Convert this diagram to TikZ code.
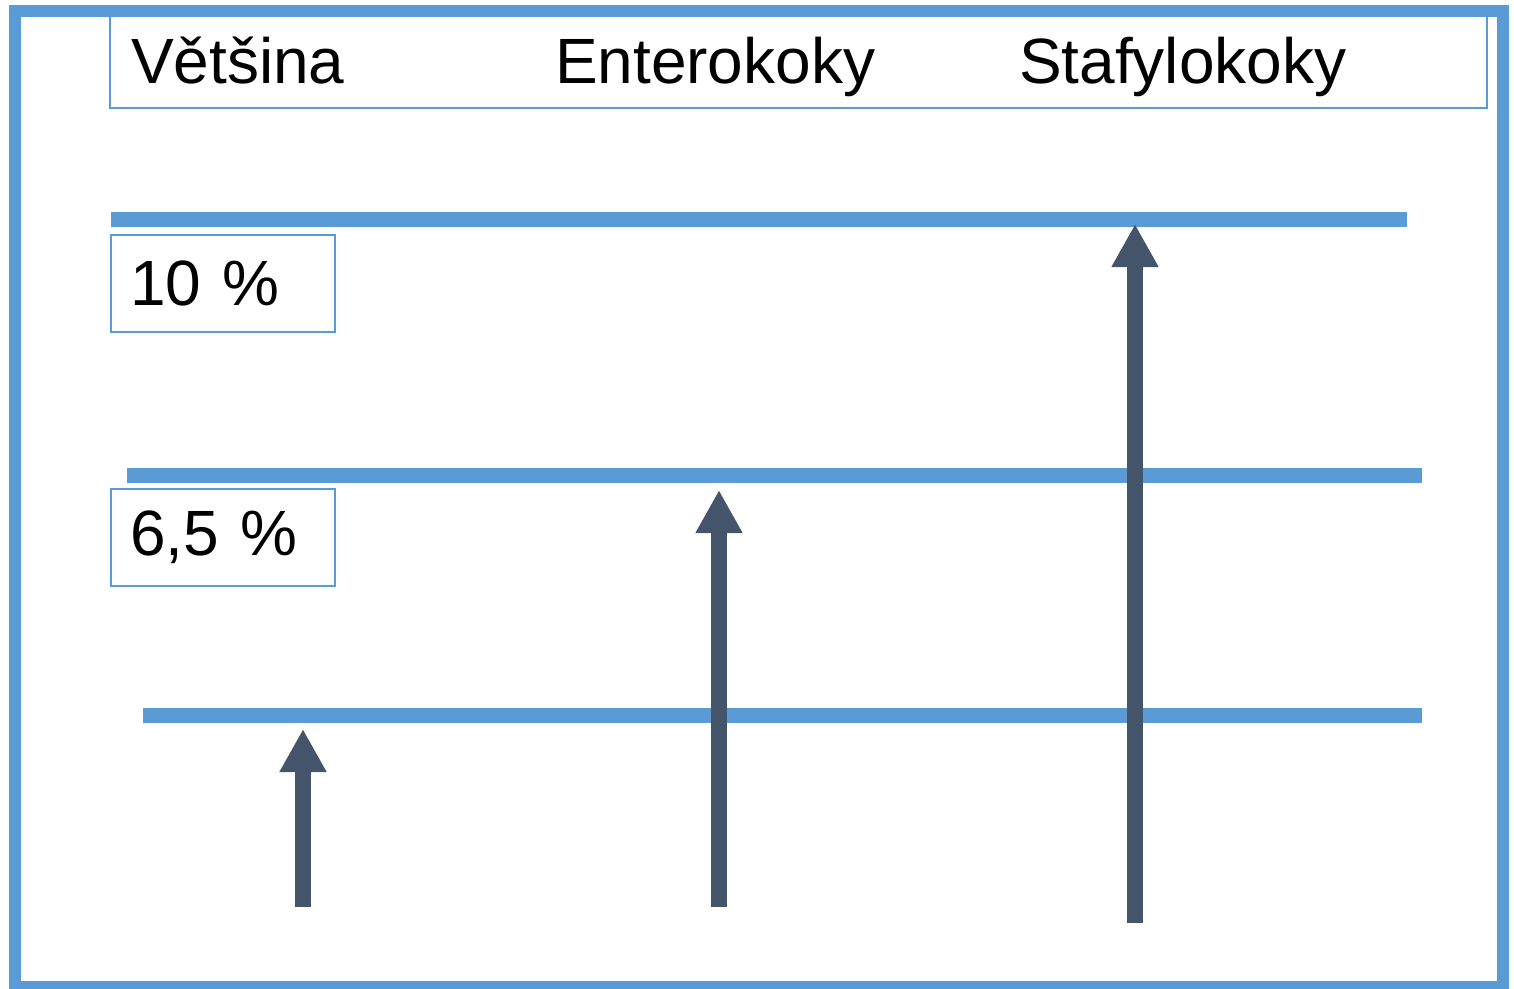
\documentclass[tikz,border=0pt]{standalone}
\usepackage{fontspec}
\setmainfont{Liberation Sans}
\usetikzlibrary{arrows.meta}
\definecolor{lineblue}{HTML}{5B9BD5}
\definecolor{arrowgray}{HTML}{44546A}
\begin{document}
\begin{tikzpicture}[x=1pt,y=-1pt,inner sep=0pt,outer sep=0pt,
headtext/.style={anchor=base west,font=\fontsize{64}{70}\selectfont},
cutoff/.style={draw=lineblue,line width=15pt},
pctbox/.style={draw=lineblue,line width=2pt,rectangle,anchor=north west,minimum width=224pt,minimum height=97pt,text width=186pt,inner xsep=19pt,align=left,font=\fontsize{64}{70}\selectfont},
rise/.style={draw=arrowgray,line width=16pt,-{Triangle[width=44pt,length=43pt]}}]
\useasboundingbox (0,0) rectangle (1514,988);
\draw[lineblue,line width=12pt] (15,11) rectangle (1503,987);
% header
\draw (798.5,60) node[draw=lineblue,line width=2pt,minimum width=1377pt,minimum height=96pt] (head) {};
\draw (131,83) node[headtext] (most) {Většina};
\draw (555,83) node[headtext] (entero) {Enterokoky};
\draw (1019,83) node[headtext] (staph) {Stafylokoky};
% levels
\draw[cutoff] (111,219) coordinate (top1) -- (1407,219) coordinate (top2);
\draw[cutoff] (127,475) coordinate (mid1) -- (1422,475) coordinate (mid2);
\draw[cutoff] (143,715) coordinate (low1) -- (1422,715) coordinate (low2);
\draw (111,235) node[pctbox] (ten) {10 \%};
\draw (111,489) node[pctbox] (sixfive) {6,5 \%};
% arrows
\coordinate (a1) at (303,907);
\coordinate (a1tip) at (303,729);
\coordinate (a2) at (719,907);
\coordinate (a2tip) at (719,490);
\coordinate (a3) at (1135,923);
\coordinate (a3tip) at (1135,224);
\draw[rise] (a1) -- (a1tip);
\draw[rise] (a2) -- (a2tip);
\draw[rise] (a3) -- (a3tip);
\end{tikzpicture}
\end{document}
